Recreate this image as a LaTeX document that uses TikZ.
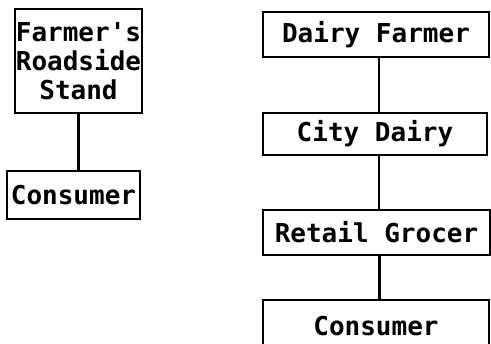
\documentclass[tikz,border=0pt]{standalone}
\usepackage{fontspec}
\usepackage{tikz}
\newfontfamily\typefont{DejaVu Sans Mono}
\begin{document}
\begin{tikzpicture}[x=1pt,y=-1pt,
  box/.style={draw,line width=2.6pt,inner sep=0pt,align=center,font=\typefont\bfseries\fontsize{26}{29}\selectfont},
  link/.style={line width=2.4pt}]
  \useasboundingbox (0,0) rectangle (491,344);
  \clip (0,0) rectangle (491,344);
  \node[box,minimum width=127pt,minimum height=104pt] (stand) at (78.5,61) {Farmer's\\Roadside\\Stand};
  \node[box,minimum width=133pt,minimum height=48pt] (cons1) at (73.5,195) {Consumer};
  \node[box,minimum width=226pt,minimum height=45pt] (farmer) at (376,34.5) {Dairy Farmer};
  \node[box,minimum width=224pt,minimum height=42pt] (dairy) at (375,134) {City Dairy};
  \node[box,minimum width=227pt,minimum height=45pt] (grocer) at (376.5,232.5) {Retail Grocer};
  \node[box,minimum width=226pt,minimum height=52pt] (cons2) at (376,326) {Consumer};
  \draw[link] (stand.south) -- (stand.south |- cons1.north);
  \draw[link] ([xshift=3pt]farmer.south) -- ([xshift=3pt]farmer.south |- dairy.north);
  \draw[link] ([xshift=4pt]dairy.south) -- ([xshift=4pt]dairy.south |- grocer.north);
  \draw[link] ([xshift=3pt]grocer.south) -- ([xshift=3pt]grocer.south |- cons2.north);
\end{tikzpicture}
\end{document}
